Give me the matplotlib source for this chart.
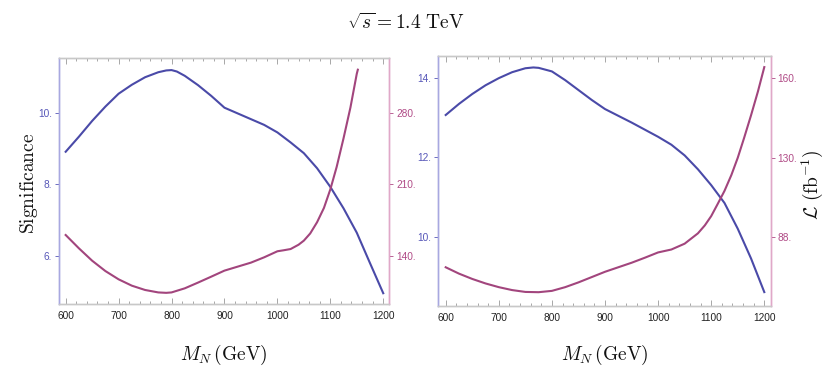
import matplotlib
matplotlib.use("Agg")
import matplotlib.pyplot as plt
from matplotlib import font_manager
from matplotlib.ticker import FixedLocator, FixedFormatter, MultipleLocator

# ---------------- data ----------------
mass_sig_left = [600, 625, 650, 675, 700, 725, 750, 775, 790, 800, 810, 825, 850, 875, 900,
                 925, 950, 975, 1000, 1025, 1050, 1075, 1100, 1125, 1150, 1175, 1200]
sig_left = [8.91, 9.33, 9.77, 10.17, 10.53, 10.78, 10.99, 11.13, 11.18, 11.19, 11.15, 11.03,
            10.77, 10.47, 10.14, 9.98, 9.82, 9.66, 9.45, 9.17, 8.87, 8.45, 7.93, 7.33, 6.65,
            5.80, 4.96]

mass_lum_left = [600, 625, 650, 675, 700, 725, 750, 775, 790, 800, 825, 850, 875, 900,
                 925, 950, 975, 1000, 1012, 1025, 1040, 1050, 1062, 1075, 1088, 1100, 1112,
                 1125, 1138, 1150, 1152]
lum_left = [160.5, 147.5, 135.4, 125.3, 117.2, 111.0, 106.8, 104.4, 104.0, 104.4, 108.4,
            114.0, 119.8, 125.7, 129.6, 133.5, 138.7, 144.6, 145.6, 146.8, 151.0, 155.0,
            162.0, 173.0, 187.0, 205.0, 227.0, 255.0, 285.0, 318.0, 322.0]

mass_sig_right = [600, 625, 650, 675, 700, 725, 750, 765, 775, 800, 825, 850, 875, 900,
                  925, 950, 975, 1000, 1025, 1050, 1075, 1100, 1125, 1150, 1175, 1200]
sig_right = [13.07, 13.35, 13.60, 13.82, 14.00, 14.15, 14.25, 14.27, 14.26, 14.17, 13.95,
             13.70, 13.45, 13.22, 13.05, 12.88, 12.70, 12.52, 12.32, 12.05, 11.70, 11.30,
             10.85, 10.20, 9.45, 8.60]

mass_lum_right = [600, 625, 650, 675, 700, 725, 750, 775, 800, 825, 850, 875, 900,
                  925, 950, 975, 1000, 1025, 1050, 1075, 1088, 1100, 1112, 1125, 1138,
                  1150, 1162, 1175, 1188, 1200]
lum_right = [88.7, 86.3, 84.3, 82.6, 81.2, 80.1, 79.4, 79.3, 79.8, 81.2, 83.0, 85.0, 87.0,
             88.7, 90.4, 92.3, 94.3, 95.4, 97.6, 101.5, 104.5, 108.0, 112.5, 117.5, 123.5,
             130.0, 137.5, 146.0, 155.0, 164.2]

x_ticks = [600, 700, 800, 900, 1000, 1100, 1200]
left_sig_ticks = [6, 8, 10]
left_sig_labels = ["6.", "8.", "10."]
left_lum_ticks = [140, 210, 280]
left_lum_labels = ["140.", "210.", "280."]
right_sig_ticks = [10, 12, 14]
right_sig_labels = ["10.", "12.", "14."]
right_lum_ticks = [100, 130, 160]
right_lum_labels = ["88.", "130.", "160."]

title_text = r"$\sqrt{s} = 1.4\ \mathrm{TeV}$"
xlabel_text = r"$M_N\,(\mathrm{GeV})$"
ylabel_left = r"$\mathrm{Significance}$"
ylabel_right = r"$\mathcal{L}\ (\mathrm{fb}^{-1})$"

# ---------------- style ----------------
plt.rcParams["mathtext.fontset"] = "cm"
available = {f.name for f in font_manager.fontManager.ttflist}
if "Liberation Sans Narrow" in available:
    tick_family, tick_size = "Liberation Sans Narrow", 8
elif "Liberation Sans" in available:
    tick_family, tick_size = "Liberation Sans", 7.3
else:
    tick_family, tick_size = "DejaVu Sans", 6.8

BLUE = "#4a4aa8"
MAG = "#a2457d"
BLUE_T = "#5656b8"
MAG_T = "#b04a86"
BLUE_SP = "#a8a8e0"
MAG_SP = "#e0a8c8"
GRAY_SP = "#c8c8c8"

fig = plt.figure(figsize=(8.31, 3.82), dpi=100)

def make_panel(rect, xlim, ylim_sig, ylim_lum, xs, ys, xl, yl,
               sig_ticks, sig_labels, lum_ticks, lum_labels):
    ax = fig.add_axes(rect)
    ax2 = ax.twinx()
    ax.plot(xs, ys, color=BLUE, lw=1.5, solid_joinstyle="round")
    ax2.plot(xl, yl, color=MAG, lw=1.5, solid_joinstyle="round")
    ax.set_xlim(*xlim)
    ax.set_ylim(*ylim_sig)
    ax2.set_ylim(*ylim_lum)

    ax.xaxis.set_major_locator(FixedLocator(x_ticks))
    ax.xaxis.set_minor_locator(MultipleLocator(20))
    ax.tick_params(axis="x", which="both", direction="in", top=True, bottom=True,
                   color="#999999", width=0.6, labelsize=tick_size, pad=5,
                   labelcolor="#222222")
    ax.tick_params(axis="x", which="major", length=4)
    ax.tick_params(axis="x", which="minor", length=2)

    ax.yaxis.set_major_locator(FixedLocator(sig_ticks))
    ax.yaxis.set_major_formatter(FixedFormatter(sig_labels))
    ax.tick_params(axis="y", which="major", direction="out", length=3, width=0.6,
                   color=BLUE_T, labelcolor=BLUE_T, labelsize=tick_size, pad=2)

    ax2.yaxis.set_major_locator(FixedLocator(lum_ticks))
    ax2.yaxis.set_major_formatter(FixedFormatter(lum_labels))
    ax2.tick_params(axis="y", which="major", direction="out", length=3, width=0.6,
                    color=MAG_T, labelcolor=MAG_T, labelsize=tick_size, pad=2)

    for a in (ax, ax2):
        for lab in a.get_xticklabels() + a.get_yticklabels():
            lab.set_family(tick_family)
        a.spines["left"].set_color(BLUE_SP)
        a.spines["right"].set_color(MAG_SP)
        a.spines["top"].set_color(GRAY_SP)
        a.spines["bottom"].set_color(GRAY_SP)
        for s in a.spines.values():
            s.set_linewidth(1.0)
    return ax, ax2

axL, axL2 = make_panel([0.0710, 0.2034, 0.3975, 0.6455], (587.4, 1211.5),
                       (4.651, 11.535), (92.8, 333.7),
                       mass_sig_left, sig_left, mass_lum_left, lum_left,
                       left_sig_ticks, left_sig_labels, left_lum_ticks, left_lum_labels)
axR, axR2 = make_panel([0.5274, 0.1990, 0.4000, 0.6545], (586.0, 1212.0),
                       (8.25, 14.56), (74.1, 168.4),
                       mass_sig_right, sig_right, mass_lum_right, lum_right,
                       right_sig_ticks, right_sig_labels, right_lum_ticks, right_lum_labels)

axL.set_ylabel(ylabel_left, fontsize=14, color="#111111")
axL.yaxis.set_label_coords(-0.058, 0.49)
axR2.set_ylabel(ylabel_right, fontsize=14, color="#111111", rotation=90)
axR2.yaxis.set_label_coords(1.088, 0.485)

fig.text(224 / 831, 1 - 355 / 382, xlabel_text, fontsize=14, ha="center", va="center",
         color="#111111")
fig.text(604.5 / 831, 1 - 355 / 382, xlabel_text, fontsize=14, ha="center", va="center",
         color="#111111")
fig.text(406 / 831, 1 - 23 / 382, title_text, fontsize=14, ha="center", va="center",
         color="#111111")

fig.savefig("out.png", dpi=100)
